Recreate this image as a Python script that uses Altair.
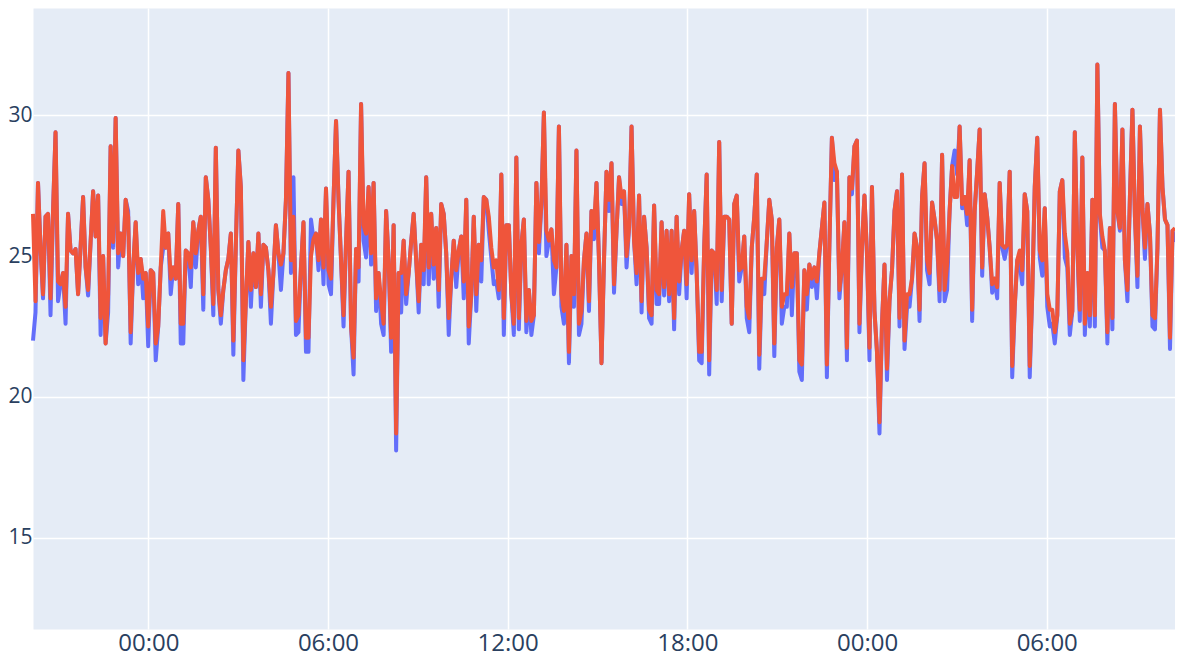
import pandas as pd
import altair as alt

# Red series (drawn on top), read left to right
red = [
    26.5, 23.4, 27.6, 25.3, 23.65, 26.4, 26.5, 23.5, 26.6, 29.4, 24.1, 24.0, 24.4, 23.2, 26.5, 25.2, 25.1, 25.25, 23.65, 25.3,
    27.1, 24.6, 23.8, 25.5, 27.3, 25.7, 27.15, 22.8, 25.0, 21.9, 23.65, 28.9, 25.5, 29.9, 25.1, 25.8, 25.0, 27.0, 26.4, 22.3,
    24.6, 26.2, 24.4, 24.9, 24.2,
    24.4, 22.5, 24.5, 24.4, 21.9, 22.5, 24.6, 26.6, 25.3, 25.8, 24.2, 24.6, 24.2, 26.85, 22.6, 22.6, 25.2, 25.1, 24.6, 26.2,
    25.1, 25.9, 26.4, 23.65, 27.8, 27.0, 25.3, 23.3, 28.85, 23.8, 22.9, 23.8, 24.5, 24.9, 25.8, 22.0, 25.4, 28.75, 27.45, 21.3,
    23.4, 25.5, 23.8, 25.1, 23.9, 25.8, 23.65, 25.4,
    25.3, 24.5, 23.2, 24.4, 26.1, 25.1, 24.7, 25.1, 27.0, 31.5, 24.85, 26.4, 22.7, 22.9, 24.6, 26.2, 22.1, 22.1, 25.0, 25.6,
    25.8, 24.85, 26.3, 24.6, 27.4, 24.5, 24.2, 27.0, 29.8, 27.0, 24.85, 22.9, 25.5, 28.0, 22.5, 21.4, 25.25, 24.6, 30.4, 26.1,
    25.8, 27.45, 25.1, 27.6, 23.5, 24.4,
    23.4, 22.6, 26.6, 24.85, 22.1, 26.1, 18.7, 24.4, 24.4, 25.55, 23.65, 24.4, 25.5, 26.5, 24.85, 23.4, 25.4, 24.5, 27.8, 24.6,
    26.5, 24.7, 26.0, 23.8, 26.85, 26.5, 25.1, 22.8, 24.2, 25.55, 24.5, 25.2, 25.7, 24.1, 27.0, 22.5, 23.65, 26.4, 23.65, 25.4,
    24.85, 27.1, 27.0, 26.4, 25.3, 24.6,
    24.85, 23.8, 27.9, 22.8, 26.1, 26.1, 23.65, 22.6, 28.5, 22.8, 25.4, 26.3, 22.7, 23.8, 22.7, 22.9, 27.6, 25.5, 26.85, 30.1,
    25.9, 25.55, 25.95, 24.85, 24.6, 29.6, 23.65, 23.05, 25.4, 21.6, 25.0, 23.65, 28.75, 22.6, 23.05, 24.85, 25.8, 23.4, 26.6, 26.0,
    27.6, 24.85, 21.2, 24.85, 28.0, 27.0, 28.3,
    24.0, 25.9, 27.8, 27.1, 27.3, 25.0, 26.0, 29.6, 25.55, 24.4, 27.15, 23.4, 26.4, 25.3, 23.1, 22.9, 26.8, 23.8, 23.65, 26.2,
    23.9, 25.9, 23.65, 25.9, 22.8, 26.4, 24.1, 25.2, 25.9, 24.0, 27.2, 24.85, 26.6, 24.4, 21.6, 21.6, 25.3, 27.9, 21.3, 25.2,
    25.1, 23.8, 29.05, 23.8, 26.4,
    26.4, 26.3, 22.6, 26.85, 27.15, 24.5, 24.6, 25.7, 23.2, 22.8, 25.3, 26.4, 27.9, 21.5, 24.2, 24.2, 25.5, 27.0, 26.3, 21.9,
    25.3, 26.3, 23.2, 23.65, 23.65, 25.8, 23.9, 25.1, 25.1, 21.3, 21.15, 24.5, 23.65, 24.7, 24.2, 24.6, 24.1, 25.1, 26.0, 26.9,
    21.15, 25.4, 29.2, 28.3, 28.0,
    23.8, 24.6, 26.2, 21.75, 27.8, 27.4, 28.9, 29.1, 22.6, 25.3, 27.15, 25.1, 21.75, 27.45, 23.05, 21.6, 19.1, 22.6, 24.7, 21.0,
    23.4, 24.5, 26.6, 27.3, 22.8, 27.9, 22.0, 23.65, 23.65, 24.2, 25.8, 25.3, 23.1, 27.1, 28.3, 24.85, 24.4, 26.9, 26.3, 25.55,
    23.8, 28.6, 23.8, 24.7, 26.6, 28.2,
    27.1, 27.1, 29.6, 26.85, 27.1, 26.5, 28.4, 23.1, 26.6, 28.0, 29.5, 24.6, 27.2, 26.4, 25.3, 24.0, 24.2, 23.9, 27.6, 25.4,
    25.3, 25.4, 28.0, 21.1, 23.2, 24.85, 25.2, 24.5, 27.2, 26.6, 21.1, 23.65, 27.45, 29.2, 25.2, 24.85, 26.7, 23.65, 23.1, 23.1,
    22.3, 22.9, 27.3, 27.7, 25.8, 25.1,
    22.6, 23.05, 29.4, 25.3, 23.1, 28.5, 22.6, 24.4, 22.9, 27.0, 22.9, 31.8, 26.5, 25.7, 25.2, 22.3, 26.0, 22.8, 30.4, 26.6,
    26.0, 29.5, 24.85, 23.8, 27.1, 30.2, 26.4, 24.3, 29.6, 26.7, 25.3, 26.85, 25.8, 22.9, 22.8, 25.3, 30.2, 27.45, 26.3, 26.1,
    22.1, 25.9, 26.0,
]

# Blue series (drawn underneath)
blue = [
    22.0, 23.0, 27.6, 25.3, 23.5, 26.4, 26.5, 22.9, 26.6, 29.4, 23.4, 24.0, 24.4, 22.6, 26.5, 25.2, 25.1, 25.25, 23.65, 25.3,
    27.1, 24.6, 23.6, 25.5, 27.3, 25.7, 27.15, 22.2, 25.0, 21.9, 23.0, 28.9, 25.3, 29.9, 24.6, 25.8, 25.0, 27.0, 26.6, 21.9,
    24.6, 26.2, 24.0, 24.9, 23.5,
    24.4, 21.8, 24.5, 24.4, 21.3, 22.5, 24.6, 25.3, 25.3, 25.8, 23.65, 24.6, 24.2, 26.85, 21.9, 21.9, 25.2, 25.1, 23.9, 26.2,
    24.6, 25.9, 26.4, 23.1, 27.8, 27.0, 25.3, 22.9, 28.85, 23.8, 22.6, 23.8, 24.5, 24.9, 25.8, 21.5, 25.4, 28.75, 27.45, 20.6,
    23.4, 25.5, 23.2, 25.1, 23.9, 25.8, 23.2, 25.4,
    25.3, 24.5, 22.6, 24.4, 26.1, 25.1, 23.8, 25.1, 27.0, 31.5, 24.4, 27.8, 22.2, 22.3, 24.6, 26.2, 21.6, 21.6, 26.3, 25.6,
    25.8, 24.5, 26.3, 24.0, 27.4, 24.0, 23.65, 27.0, 29.8, 27.0, 24.85, 22.5, 25.5, 28.0, 22.5, 20.8, 25.25, 24.1, 30.4, 25.55,
    24.95, 27.45, 24.7, 27.6, 23.05, 24.4,
    22.6, 22.2, 26.6, 24.85, 21.6, 26.1, 18.1, 24.4, 23.0, 25.55, 23.3, 24.4, 25.5, 26.5, 24.85, 23.0, 25.4, 24.0, 27.8, 24.0,
    26.5, 24.2, 26.0, 23.2, 26.85, 26.5, 25.1, 22.2, 24.2, 25.55, 23.9, 25.2, 25.7, 23.5, 27.0, 21.9, 23.65, 26.4, 23.05, 25.4,
    24.1, 27.1, 27.0, 25.9, 24.95, 24.0,
    24.1, 23.5, 27.9, 22.2, 26.1, 26.1, 23.65, 22.2, 28.5, 22.4, 25.4, 26.3, 22.3, 23.8, 22.2, 22.9, 27.6, 25.1, 26.85, 30.1,
    25.0, 25.55, 25.95, 23.65, 24.6, 29.6, 23.2, 22.6, 25.4, 21.2, 25.0, 23.2, 28.75, 22.2, 22.6, 24.85, 25.8, 23.05, 26.6, 25.6,
    27.6, 24.85, 21.2, 24.85, 28.0, 26.6, 28.3,
    23.7, 25.9, 27.8, 26.85, 27.3, 24.6, 26.0, 29.6, 25.55, 24.0, 27.15, 23.0, 26.4, 25.3, 22.8, 22.6, 26.8, 23.3, 23.3, 26.2,
    23.6, 25.9, 23.4, 25.9, 22.4, 26.4, 23.65, 25.2, 25.9, 23.5, 27.2, 24.4, 26.6, 24.4, 21.3, 21.2, 25.3, 27.9, 20.8, 25.2,
    25.1, 23.3, 29.05, 23.4, 26.4,
    26.4, 26.3, 22.6, 26.85, 27.15, 24.1, 24.6, 25.7, 22.8, 22.3, 25.3, 26.4, 27.9, 21.0, 24.2, 23.65, 25.5, 27.0, 26.3, 21.45,
    25.3, 26.3, 22.6, 23.2, 23.2, 25.8, 22.9, 25.1, 25.1, 20.9, 20.6, 24.5, 23.1, 24.7, 23.9, 24.6, 23.5, 25.1, 26.0, 26.9,
    20.7, 25.4, 29.2, 27.7, 28.0,
    23.5, 24.6, 26.2, 21.3, 27.8, 27.2, 28.9, 29.1, 22.3, 25.3, 27.15, 25.1, 21.3, 27.45, 23.05, 21.6, 18.7, 22.6, 24.7, 20.6,
    23.4, 24.5, 26.6, 27.3, 22.5, 27.9, 21.7, 23.2, 23.2, 24.2, 25.8, 25.3, 22.7, 27.1, 28.3, 24.5, 24.0, 26.9, 26.3, 25.55,
    23.4, 28.6, 23.4, 23.8, 26.6, 28.2,
    28.75, 27.9, 29.6, 26.7, 27.1, 26.1, 28.4, 22.7, 26.6, 28.0, 29.5, 24.3, 27.2, 26.4, 25.3, 23.7, 24.2, 23.5, 27.6, 25.3,
    24.9, 25.4, 28.0, 20.7, 23.2, 24.85, 24.7, 24.0, 27.2, 26.6, 20.7, 23.65, 27.45, 29.2, 24.95, 24.3, 26.7, 23.2, 22.5, 22.6,
    21.9, 22.9, 27.3, 27.7, 24.95, 24.6,
    22.2, 23.05, 29.4, 25.3, 22.7, 28.5, 22.2, 24.4, 22.5, 27.0, 22.5, 31.8, 26.4, 25.3, 25.2, 21.9, 26.0, 22.4, 30.4, 26.6,
    25.9, 29.5, 24.85, 23.4, 27.1, 30.2, 26.4, 23.9, 29.6, 26.7, 24.9, 26.85, 25.8, 22.5, 22.4, 25.3, 30.2, 27.45, 26.3, 26.1,
    21.7, 25.9, 25.5,
]

start_time = "2024-01-01 20:09"
end_time = "2024-01-03 10:17"
x_tick_days = [2, 2, 2, 2, 3, 3]
x_tick_hours = [0, 6, 12, 18, 0, 6]
y_ticks = [15, 20, 25, 30]
y_range = [11.76, 33.81]

times = pd.date_range(start_time, end_time, periods=len(red))
df = pd.DataFrame({"time": times, "blue": blue, "red": red})

x_enc = alt.X(
    "time:T",
    title=None,
    scale=alt.Scale(nice=False),
    axis=alt.Axis(
        values=[alt.DateTime(year=2024, month=1, date=d, hours=h) for d, h in zip(x_tick_days, x_tick_hours)],
        format="%H:%M",
        labelFontSize=24,
        labelPadding=2,
    ),
)

y_scale = alt.Scale(domain=y_range, nice=False, zero=False)
y_axis = alt.Axis(values=y_ticks, labelFontSize=21, labelPadding=1)

base = alt.Chart(df)
blue_line = base.mark_line(color="#636EFA", strokeWidth=4, strokeJoin="round").encode(
    x=x_enc, y=alt.Y("blue:Q", title=None, scale=y_scale, axis=y_axis)
)
red_line = base.mark_line(color="#EF553B", strokeWidth=4, strokeJoin="round").encode(
    x=x_enc, y=alt.Y("red:Q", title=None, scale=y_scale, axis=y_axis)
)

chart = (
    alt.layer(blue_line, red_line)
    .properties(
        width=1142,
        height=621,
        autosize="none",
        padding={"left": 25, "top": 0, "right": 0, "bottom": 27},
        background="white",
    )
    .configure_view(fill="#E5ECF6", stroke="transparent")
    .configure_axis(
        domain=False,
        ticks=False,
        grid=True,
        gridColor="white",
        gridWidth=1.5,
        labelColor="#2a3f5f",
        labelFont="Open Sans",
    )
)

chart.save("out.html", embed_options={"renderer": "svg", "actions": False})
